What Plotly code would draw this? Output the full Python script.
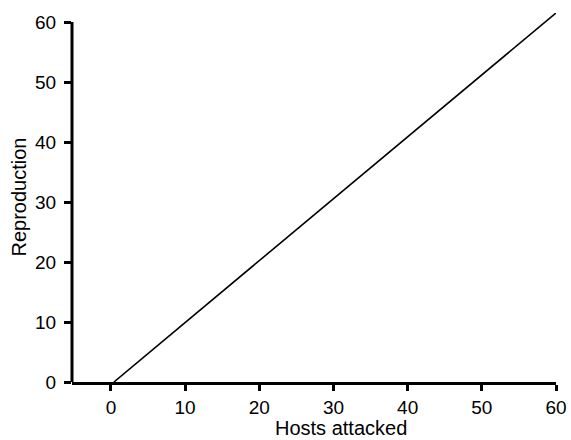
import plotly.graph_objects as go

# Linear relation between hosts attacked and parasitoid reproduction
hosts_attacked = [0.4, 60]
reproduction = [0, 61.5]

x_ticks = [0, 10, 20, 30, 40, 50, 60]
y_ticks = [0, 10, 20, 30, 40, 50, 60]

x_title = "Hosts attacked"
y_title = "Reproduction"

family = "Liberation Sans, Arial, sans-serif"
tick_font = dict(family=family, size=19, color="black")
title_font = dict(family=family, size=20, color="black")

fig = go.Figure()
fig.add_trace(go.Scatter(
    x=hosts_attacked, y=reproduction, mode="lines",
    line=dict(color="black", width=1.6), showlegend=False, hoverinfo="skip",
))

# Left axis line stops at the top tick rather than the plot edge
fig.add_shape(type="line", xref="paper", yref="y", x0=0, x1=0,
              y0=y_ticks[0], y1=y_ticks[-1],
              line=dict(color="black", width=3))

# Axis titles placed as annotations
fig.add_annotation(text=x_title, xref="paper", yref="paper", x=0.556, y=0,
                   xanchor="center", yanchor="middle", yshift=-46,
                   showarrow=False, font=title_font)
fig.add_annotation(text=y_title, xref="paper", yref="paper", x=0, y=0.5,
                   xanchor="center", yanchor="middle", xshift=-54,
                   textangle=-90, showarrow=False, font=title_font)

fig.update_layout(
    width=571, height=440,
    margin=dict(l=72, r=15, t=13, b=58),
    paper_bgcolor="white", plot_bgcolor="white",
    font=tick_font,
    xaxis=dict(
        range=[-5.25, 60], tickvals=x_ticks, ticks="outside", ticklen=6,
        tickwidth=3, tickcolor="black", showline=True, linewidth=3,
        linecolor="black", showgrid=False, zeroline=False, automargin=False,
        tickfont=tick_font,
    ),
    yaxis=dict(
        range=[0, 61.5], tickvals=y_ticks, ticks="outside", ticklen=7,
        tickwidth=3, tickcolor="black", showline=False, showgrid=False,
        zeroline=False, automargin=False, tickfont=tick_font,
        ticklabelstandoff=4,
    ),
)

fig.write_html("out.html")
